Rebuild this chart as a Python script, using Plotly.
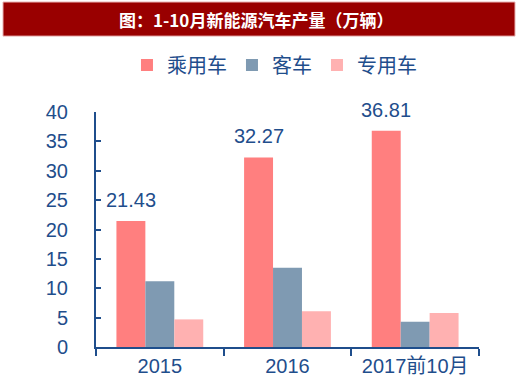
import plotly.graph_objects as go

categories = ["2015", "2016", "2017前10月"]
series_names = ["乘用车", "客车", "专用车"]
passenger = [21.43, 32.27, 36.81]
bus = [11.2, 13.5, 4.3]
special = [4.7, 6.1, 5.8]
colors = ["#FF7F7F", "#7F9AB2", "#FFB1B1"]
title_text = "图：1-10月新能源汽车产量（万辆）"

TXT = "#1F4E8C"
FONT = "Liberation Sans, Noto Sans CJK SC, sans-serif"

W, H = 520, 388
L, R, T, B = 96, 41, 112, 41
BARGAP = 0.32
# offset (in category units) of the first bar of each group from the category centre
first_bar_offset = -(1 - BARGAP) / len(series_names)

fig = go.Figure()
for name, vals, c in zip(series_names, [passenger, bus, special], colors):
    fig.add_trace(go.Bar(
        x=categories, y=vals, name=name, marker=dict(color=c, line=dict(width=0)),
    ))

annotations = [dict(text=f"{v:.2f}", x=i + first_bar_offset, y=v, xref="x", yref="y", showarrow=False,
                    yshift=21, xanchor="center", yanchor="middle",
                    font=dict(size=20, color=TXT, family=FONT))
               for i, v in enumerate(passenger)]
annotations.append(dict(text="<b>" + title_text + "</b>", xref="paper", yref="paper", x=0.418, y=1.395,
                        showarrow=False, font=dict(size=17, color="white", family="Noto Sans CJK SC"),
                        xanchor="center", yanchor="middle"))

fig.update_layout(
    width=W, height=H,
    margin=dict(l=L, r=R, t=T, b=B, autoexpand=False),
    paper_bgcolor="white", plot_bgcolor="white",
    barmode="group", bargap=BARGAP, bargroupgap=0,
    font=dict(family=FONT, color=TXT),
    showlegend=True,
    legend=dict(orientation="h", x=0.466, xanchor="center", y=1.2, yanchor="middle",
                font=dict(size=20, color=TXT), traceorder="normal"),
    xaxis=dict(type="category", categoryorder="array", categoryarray=categories,
               range=[-0.5, len(categories) - 0.5],
               showline=True, linecolor=TXT, linewidth=2, ticks="outside", tickson="boundaries",
               ticklen=7, tickwidth=2, tickcolor=TXT, tickfont=dict(size=20, color=TXT),
               showgrid=False, automargin=False, tickangle=0),
    yaxis=dict(range=[0, 40], dtick=5, showline=True, linecolor=TXT, linewidth=2,
               ticks="inside", ticklen=5, tickwidth=2, tickcolor=TXT,
               tickfont=dict(size=20, color=TXT), showgrid=False, zeroline=False,
               ticklabelstandoff=22, automargin=False),
    shapes=[dict(type="rect", xref="paper", yref="paper", x0=-0.2428, x1=1.094, y0=1.323, y1=1.468,
                 fillcolor="#990000", line=dict(color="#E8B0B0", width=1), layer="above")],
    annotations=annotations,
)
fig.write_html("out.html", config={"displayModeBar": False},
               post_script="document.body.style.margin='0';")
